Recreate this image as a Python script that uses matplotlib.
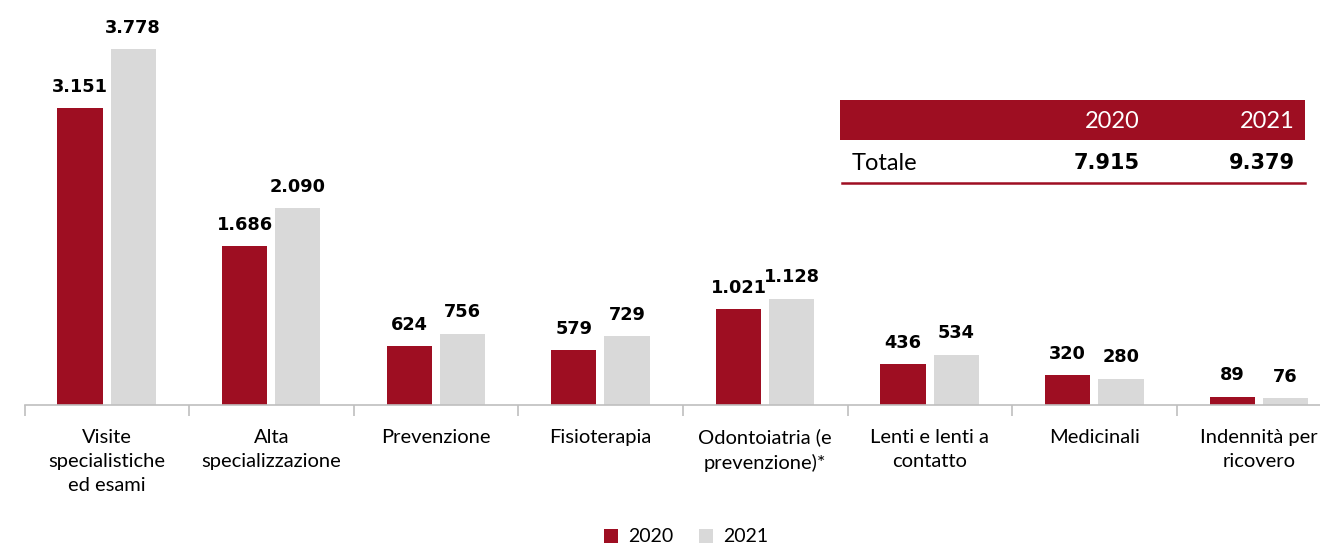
import numpy as np
import matplotlib.pyplot as plt
from matplotlib.patches import Rectangle
from matplotlib.lines import Line2D

categories = ["Visite\nspecialistiche\ned esami", "Alta\nspecializzazione", "Prevenzione",
              "Fisioterapia", "Odontoiatria (e\nprevenzione)*", "Lenti e lenti a\ncontatto",
              "Medicinali", "Indennità per\nricovero"]
v2020 = [3151, 1686, 624, 579, 1021, 436, 320, 89]
v2021 = [3778, 2090, 756, 729, 1128, 534, 280, 76]
years = ["2020", "2021"]
totals = ["7.915", "9.379"]

red = "#9E0E22"
grey = "#D9D9D9"
W, H = 1320, 547

def fmt(v):
    return f"{v:,}".replace(",", ".")

fig = plt.figure(figsize=(W / 100, H / 100), dpi=100)
# axes extends past the right edge like the original
ax = fig.add_axes([24.5 / W, (H - 405) / H, 1317 / W, 377 / H])

x = np.arange(len(categories))
bw = 0.275
b1 = ax.bar(x - 0.163, v2020, bw, color=red, label="2020")
b2 = ax.bar(x + 0.160, v2021, bw, color=grey, label="2021")
for bars, vals in ((b1, v2020), (b2, v2021)):
    for r, v in zip(bars, vals):
        ax.text(r.get_x() + r.get_width() / 2, v + 130, fmt(v), ha="center", va="bottom",
                fontsize=12.8, fontweight="bold", family="DejaVu Sans")

ax.set_xlim(-0.5, len(categories) - 0.5)
ax.set_ylim(0, 4000)
for s in ["top", "right", "left"]:
    ax.spines[s].set_visible(False)
ax.spines["bottom"].set_color("#BFBFBF")
ax.spines["bottom"].set_linewidth(1.2)
ax.set_yticks([])
ax.set_xticks(x)
ax.set_xticklabels(categories, fontsize=14.5, family="Lato", linespacing=1.5, va="top")
ax.tick_params(axis="x", which="major", length=0, pad=17)
ax.set_xticks(np.arange(-0.5, len(categories), 1), minor=True)
ax.tick_params(axis="x", which="minor", length=8, color="#BFBFBF", width=1.2)

# summary table
def fx(px):
    return px / W

def fy(py):
    return 1 - py / H

fig.patches.append(Rectangle((fx(840), fy(140)), fx(465), 40 / H, transform=fig.transFigure,
                             facecolor=red, edgecolor="none"))
fig.text(fx(1140), fy(122), years[0], color="white", ha="right", va="center", fontsize=17, family="Lato")
fig.text(fx(1295), fy(122), years[1], color="white", ha="right", va="center", fontsize=17, family="Lato")
fig.text(fx(852), fy(163), "Totale", ha="left", va="center", fontsize=17, family="Lato")
fig.text(fx(1140), fy(163), totals[0], ha="right", va="center", fontsize=15, fontweight="bold", family="DejaVu Sans")
fig.text(fx(1295), fy(163), totals[1], ha="right", va="center", fontsize=15, fontweight="bold", family="DejaVu Sans")
fig.lines.append(Line2D([fx(842), fx(1305)], [fy(183), fy(183)], transform=fig.transFigure,
                        color=red, linewidth=1.8))

fig.legend(handles=[b1, b2], loc="center", bbox_to_anchor=(686 / W, 1 - 537 / H), ncol=2, frameon=False,
           prop={"family": "Lato", "size": 14}, handlelength=0.75, handleheight=0.75,
           handletextpad=0.5, columnspacing=1.3)

fig.savefig("out.png", dpi=100)
